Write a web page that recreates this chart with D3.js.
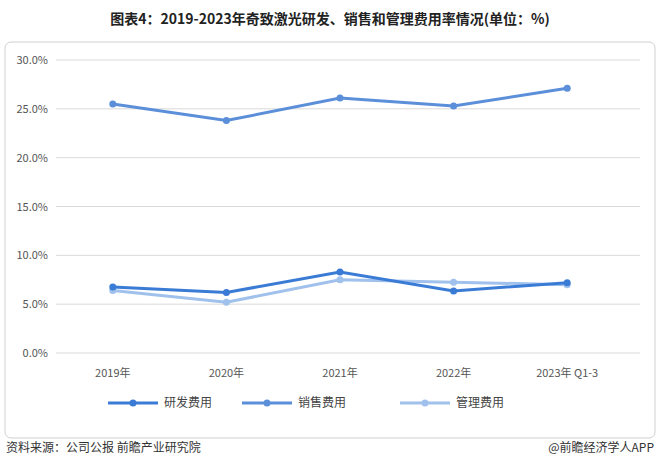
<!DOCTYPE html>
<meta charset="utf-8">
<style>
  body{margin:0;background:#fff;font-family:"Noto Sans CJK SC","Noto Sans",sans-serif;}
  text{font-family:"Noto Sans CJK SC","Noto Sans",sans-serif;}
</style>
<body>
<svg width="660" height="465" id="chart"></svg>
<script src="https://d3js.org/d3.v7.min.js"></script>
<script>
var years = ["2019年","2020年","2021年","2022年","2023年 Q1-3"];
var yTicks = [0,5,10,15,20,25,30];
var rd    = [6.75,6.2,8.3,6.35,7.2];
var sales = [25.5,23.8,26.1,25.3,27.1];
var admin = [6.4,5.2,7.5,7.25,7.0];
var seriesNames = ["研发费用","销售费用","管理费用"];
var colors = ["#3a7bd5","#5b8fd9","#9fc1ec"];

var svg = d3.select("#chart");
svg.append("text").attr("x",330).attr("y",24).attr("text-anchor","middle")
  .attr("font-size",14).attr("font-weight","bold").attr("fill","#222")
  .text("图表4：2019-2023年奇致激光研发、销售和管理费用率情况(单位：%)");
svg.append("rect").attr("x",5).attr("y",42).attr("width",650).attr("height",396)
  .attr("rx",6).attr("fill","none").attr("stroke","#d0d0d0");

var x = d3.scaleBand().domain(years).range([56,624]);
var y = d3.scaleLinear().domain([0,30]).range([353,60]);

var g = svg.append("g");
yTicks.forEach(function(t){
  g.append("line").attr("x1",56).attr("x2",640).attr("y1",y(t)).attr("y2",y(t))
    .attr("stroke","#d9d9d9");
  g.append("text").attr("x",48).attr("y",y(t)+4).attr("text-anchor","end")
    .attr("font-size",11).attr("fill","#555").text(t.toFixed(1)+"%");
});
years.forEach(function(d){
  g.append("text").attr("x",x(d)+x.bandwidth()/2).attr("y",377).attr("text-anchor","middle")
    .attr("font-size",11).attr("fill","#555").text(d);
});

var line = d3.line().x(function(d,i){return x(years[i])+x.bandwidth()/2;}).y(function(d){return y(d);});
[admin,sales,rd].forEach(function(s){
  var idx = s===rd?0:(s===sales?1:2);
  g.append("path").attr("d",line(s)).attr("fill","none").attr("stroke",colors[idx]).attr("stroke-width",3);
  g.selectAll(null).data(s).enter().append("circle")
    .attr("cx",function(d,i){return x(years[i])+x.bandwidth()/2;})
    .attr("cy",function(d){return y(d);}).attr("r",3.5).attr("fill",colors[idx]);
});

var lx = [108,242,400];
seriesNames.forEach(function(n,i){
  g.append("line").attr("x1",lx[i]).attr("x2",lx[i]+50).attr("y1",403).attr("y2",403)
    .attr("stroke",colors[i]).attr("stroke-width",3);
  g.append("circle").attr("cx",lx[i]+25).attr("cy",403).attr("r",3.5).attr("fill",colors[i]);
  g.append("text").attr("x",lx[i]+56).attr("y",407).attr("font-size",12).attr("fill","#444").text(n);
});

svg.append("text").attr("x",6).attr("y",452).attr("font-size",12).attr("fill","#333")
  .text("资料来源：公司公报 前瞻产业研究院");
svg.append("text").attr("x",654).attr("y",452).attr("text-anchor","end").attr("font-size",12).attr("fill","#333")
  .text("@前瞻经济学人APP");
</script>
</body>
